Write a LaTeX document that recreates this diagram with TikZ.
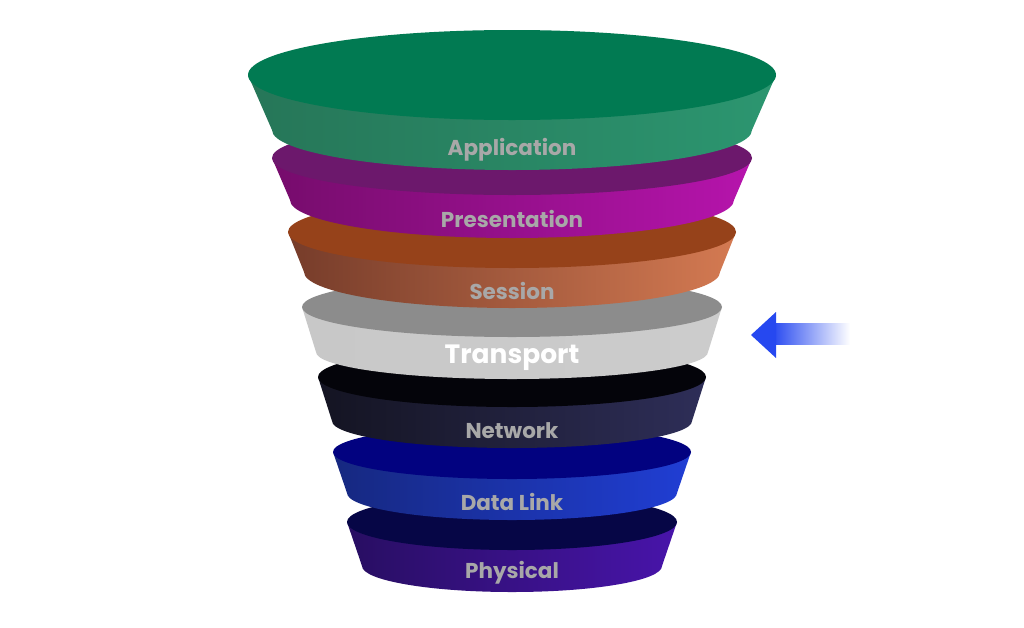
\documentclass[tikz,border=0pt]{standalone}
\usepackage{fontspec}
\setmainfont{Poppins}
\usepackage{tikz}
\tikzset{>=stealth}
\definecolor{appTop}{RGB}{1,122,82}
\definecolor{appL}{RGB}{38,118,88}
\definecolor{appR}{RGB}{44,150,112}
\definecolor{preTop}{RGB}{108,24,108}
\definecolor{preL}{RGB}{118,12,108}
\definecolor{preR}{RGB}{182,20,172}
\definecolor{sesTop}{RGB}{150,66,26}
\definecolor{sesL}{RGB}{118,60,42}
\definecolor{sesR}{RGB}{212,122,82}
\definecolor{traTop}{RGB}{140,140,140}
\definecolor{traL}{RGB}{200,200,200}
\definecolor{traR}{RGB}{204,204,204}
\definecolor{netTop}{RGB}{4,4,10}
\definecolor{netL}{RGB}{20,20,34}
\definecolor{netR}{RGB}{46,46,88}
\definecolor{datTop}{RGB}{2,2,128}
\definecolor{datL}{RGB}{22,40,128}
\definecolor{datR}{RGB}{32,62,212}
\definecolor{phyTop}{RGB}{6,6,70}
\definecolor{phyL}{RGB}{40,14,98}
\definecolor{phyR}{RGB}{72,20,170}
\definecolor{labelgray}{RGB}{168,168,168}
\definecolor{arrowblue}{RGB}{38,72,240}

\begin{document}
\begin{tikzpicture}[x=1pt,y=-1pt,
    layerlabel/.style={font=\bfseries\fontsize{#1}{#1}\selectfont}]
          \fill[white] (0,0) rectangle (1024,627);
          \useasboundingbox (0,0) rectangle (1024,627);
          \def\cx{512}
          % layers, drawn from the bottom up
          \foreach \name/\txt/\ytop/\atop/\btop/\ybot/\abot/\bbot/\ylab/\col/\tcol/\fs in {
              phys/Physical/522/165/28/566/150/26/573/phy/labelgray/21.5,
              link/Data Link/452/179/27/493/165/27/502/dat/labelgray/21.5,
              net/Network/377/194/30/421/180/27/431/net/labelgray/21.5,
              trans/Transport/307/210/30/352/196/27/358/tra/white/26.5,
              sess/Session/232/224/36/272/208/36/291/ses/labelgray/21.5,
              pres/Presentation/158/240/37/200/222/38/219/pre/labelgray/21.5,
              app/Application/75/264/45/130/240/40/150/app/labelgray/21.5} {
            \shade[left color=\col L, right color=\col R]
              (\cx-\atop,\ytop) -- (\cx-\abot,\ybot)
              arc[start angle=180, end angle=0, x radius=\abot, y radius=\bbot]
              -- (\cx+\atop,\ytop) -- cycle;
            \fill[\col Top] (\cx,\ytop) ellipse[x radius=\atop, y radius=\btop];
            \node[layerlabel=\fs, text=\tcol] (\name) at (\cx,\ylab) {\txt};
          }
          % arrow pointing at the transport layer
          \coordinate (tip) at (751,335);
          \shade[left color=arrowblue, right color=white] (772,323) rectangle (850,344);
          \fill[arrowblue] (tip) -- +(25,-23) -- +(25,23) -- cycle;
        \end{tikzpicture}
\end{document}
